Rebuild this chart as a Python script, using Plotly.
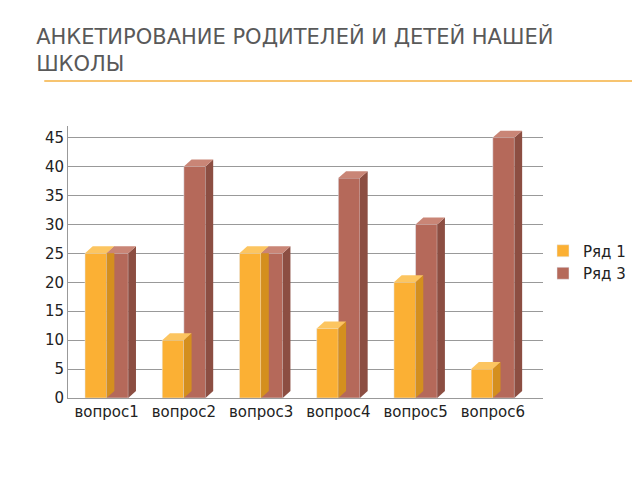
import plotly.graph_objects as go

categories = ["вопрос1", "вопрос2", "вопрос3", "вопрос4", "вопрос5", "вопрос6"]
ryad1 = [25, 10, 25, 12, 20, 5]
ryad3 = [25, 40, 25, 38, 30, 45]

x = list(range(len(categories)))
w = 0.28
dx, dy = 0.1, 1.2

fig = go.Figure()
fig.add_trace(go.Bar(x=[i - w / 2 for i in x], y=ryad1, width=w, name="Ряд 1",
                     marker_color="#FBB034"))
fig.add_trace(go.Bar(x=[i + w / 2 for i in x], y=ryad3, width=w, name="Ряд 3",
                     marker_color="#B5695A"))

# fake 3d: side and top faces built from the values
shapes = []
for vals, off, side, top in [(ryad1, -w / 2, "#D48F1E", "#FCC560"),
                             (ryad3, w / 2, "#8C4E42", "#C98576")]:
    for i, v in zip(x, vals):
        x0, x1 = i + off - w / 2, i + off + w / 2
        shapes.append(dict(type="path", xref="x", yref="y", line_width=0, fillcolor=side,
                           path=f"M{x1},0 L{x1 + dx},{dy} L{x1 + dx},{v + dy} L{x1},{v} Z"))
        shapes.append(dict(type="path", xref="x", yref="y", line_width=0, fillcolor=top,
                           path=f"M{x0},{v} L{x0 + dx},{v + dy} L{x1 + dx},{v + dy} L{x1},{v} Z"))
shapes.append(dict(type="line", xref="paper", yref="paper", x0=-0.05, x1=1.25, y0=1.165, y1=1.165,
                   line=dict(color="#F5B041", width=1.5)))

fig.update_layout(
    width=640, height=480,
    paper_bgcolor="white", plot_bgcolor="white",
    margin=dict(l=60, r=105, t=118, b=90),
    font=dict(family="DejaVu Sans", size=15, color="#222"),
    title=dict(text="АНКЕТИРОВАНИЕ РОДИТЕЛЕЙ И ДЕТЕЙ НАШЕЙ<br>ШКОЛЫ", x=0.044, y=0.925,
               xanchor="left", yanchor="top",
               font=dict(family="DejaVu Sans", size=21, color="#595959")),
    barmode="overlay",
    shapes=shapes,
    showlegend=True,
    legend=dict(x=1.0, y=0.5, yanchor="middle", font=dict(size=15)),
    xaxis=dict(tickvals=x, ticktext=categories, range=[-0.5, 5.65], showgrid=False,
               showline=True, linecolor="#999"),
    yaxis=dict(range=[0, 47], tickvals=list(range(0, 50, 5)), showgrid=True, gridcolor="#999",
               showline=True, linecolor="#999"),
)
fig.write_html("out.html")
